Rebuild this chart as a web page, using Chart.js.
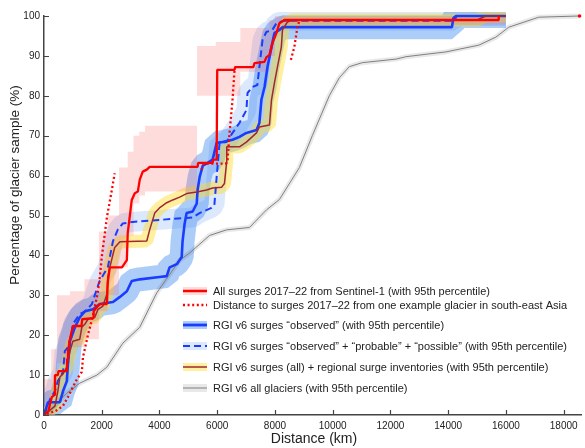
<!DOCTYPE html>
<html>
<head>
<meta charset="utf-8">
<script src="https://cdn.jsdelivr.net/npm/chart.js@4.4.0/dist/chart.umd.min.js"></script>
<style>html,body{margin:0;padding:0;background:#fff}</style>
</head>
<body>
<canvas id="chart" width="585" height="448"></canvas>
<script>
// x ticks (km) and y ticks (%)
var xTicks = [0, 2000, 4000, 6000, 8000, 10000, 12000, 14000, 16000, 18000];
var yTicks = [0, 10, 20, 30, 40, 50, 60, 70, 80, 90, 100];

// all surges 2017-22 from Sentinel-1
var redX = [0, 150, 270, 350, 380, 480, 500, 790, 800, 830, 900, 1000, 1300, 1320, 1700, 1720, 1830, 1935, 2180, 2210, 2280, 2700, 2870, 2900, 3040, 3145, 3250, 3317, 3420, 3560, 3660, 5320, 5340, 5840, 5860, 5980, 6000, 6600, 6620, 7250, 7290, 7636, 7705, 7809, 7912, 8050, 8154, 8327, 15750, 15750];
var redY = [0, 1, 4.5, 5, 10, 10, 11, 11, 14, 16, 19, 22.3, 22.3, 24, 24.3, 26, 27, 27.8, 27.8, 33.3, 37, 37, 38.8, 45.6, 53.9, 55.6, 56, 59, 61, 61.5, 62.2, 62.2, 63.2, 63.2, 64, 64, 86.5, 86.5, 87.2, 87.2, 88.2, 88.5, 89.7, 90.2, 93.2, 95.7, 98.2, 99, 99, 100];
// 95th percentile envelope of the Sentinel-1 curve
var redBandX = [0, 250, 450, 900, 1400, 1900, 2200, 2600, 2900, 3100, 3300, 3500, 5300, 5950, 6800, 7800, 8000, 8200, 8400, 16000];
var redBandHi = [3, 9, 16.5, 30, 31, 34, 46, 50, 62, 66, 70, 71, 72.5, 92.5, 93.5, 97, 99, 100, 100, 100];
var redBandLo = [0, 0, 5, 13, 17, 19, 26, 30, 37, 45, 53, 55, 56, 80, 80, 86, 90, 96, 97.8, 97.8];

// distance to surges from one example glacier
var dotX = [100, 400, 650, 830, 1000, 1140, 1310, 1350, 1520, 1700, 1870, 1935, 2000, 2180, 2350, 2450, 2500, 5450, 5550, 6300, 6360, 6430, 6530, 6600, 7000, 8550, 8670, 8730, 8780, 8850, 10000, 18550];
var dotY = [0.3, 1, 2.2, 4.5, 7, 9, 10.8, 14.5, 20, 25, 31, 34.6, 39.5, 49.6, 56.4, 60.6, null, 61.5, 63, 63, 64, 71, 79, 86.5, null, 89, 92.2, 95, 97.2, 99, null, 100];

// RGI v6 surges "observed"
var blueX = [0, 140, 550, 660, 790, 830, 900, 1070, 1240, 1420, 1700, 1930, 2390, 2630, 2870, 3040, 3320, 4000, 4250, 4350, 4600, 4770, 4800, 4870, 4940, 5150, 5290, 5320, 5390, 5500, 5630, 5840, 5980, 6180, 6530, 6770, 7010, 7360, 7460, 7530, 7640, 7740, 7880, 7980, 8150, 8260, 14130, 14180, 14270, 16000];
var blueY = [0, 3.2, 3.2, 6, 8.5, 12.8, 18.5, 22, 24.5, 26, 26.5, 27.8, 28.3, 29.6, 31, 33.6, 34, 34.6, 34.8, 37, 37.8, 39.6, 43.6, 47.9, 50.6, 51, 53, 56.4, 59.6, 62.5, 63, 64, 68.2, 68.4, 69, 69.7, 70.7, 71.4, 73.2, 79, 82.2, 87.2, 92.2, 95.7, 96.5, 97.2, 97.2, 99.5, 100, 100];

// RGI v6 surges "observed" + "probable" + "possible"
var dashX = [0, 210, 380, 480, 660, 720, 830, 970, 1000, 1240, 1420, 1660, 1830, 1930, 2210, 2390, 2560, 2730, 3075, 4940, 5150, 5390, 5800, 5900, 5980, 6080, 6320, 6530, 6770, 7010, 7050, 7220, 7390, 7460, 7570, 7700, 7910, 8050, 8300, 14200, 14300, 16000];
var dashY = [0, 4, 6, 8.5, 10.8, 16, 17, 21, 22.8, 25.3, 26, 27.8, 31.6, 33.6, 37, 43.6, 46.5, 48, 48.4, 49.4, 49.5, 50.6, 51.9, 52.6, 59.6, 68.2, 68.4, 70.7, 73.2, 76.4, 80.7, 82.2, 82.7, 87.2, 94, 96, 96.5, 98.2, 98.8, 98.8, 100, 100];

// RGI v6 surges (all) + regional surge inventories
var brownX = [0, 380, 480, 550, 660, 790, 900, 1000, 1240, 1310, 1420, 1520, 1760, 1870, 2040, 2180, 2210, 2280, 2390, 2450, 2630, 3560, 3660, 3835, 4000, 4250, 4460, 4700, 4940, 5290, 5630, 5840, 6150, 6250, 6320, 6330, 6770, 7010, 7360, 7460, 7809, 7880, 7980, 8085, 8220, 8260, 8430, 8600, 15000, 15300, 16000];
var brownY = [0, 2.2, 6, 9.5, 10.3, 12, 16, 18.5, 19, 22, 22.8, 24, 24.5, 26.5, 27.3, 30.3, 34.6, 37, 40.3, 42, 43.4, 43.6, 46.4, 50.6, 51.9, 53.2, 53.9, 54.6, 55.5, 55.9, 56.4, 56.9, 57.1, 58, 63, 67.2, 67.2, 68.4, 70.7, 72.2, 72.7, 79, 83.2, 87.2, 92.2, 96.5, 98.5, 99, 99, 100, 100];

// RGI v6 all glaciers
var grayX = [0, 311, 795, 1244, 1831, 2177, 2730, 3317, 3904, 4457, 4699, 5044, 5735, 6323, 7117, 7705, 8154, 8845, 9294, 9881, 10227, 10573, 11022, 12196, 12540, 13336, 13923, 15063, 15650, 16100, 17137, 18519];
var grayY = [0, 2, 5.5, 8, 10, 12, 18, 22, 30.6, 36.3, 38.8, 40.6, 45, 46.4, 47, 51.4, 54, 62, 70, 80, 84.5, 87.3, 88.3, 89.2, 89.8, 90.5, 91, 92.7, 94.7, 97.2, 99.7, 100];

var legendLabels = [
  'All surges 2017\u201322 from Sentinel-1 (with 95th percentile)',
  'Distance to surges 2017\u201322 from one example glacier in south-east Asia',
  'RGI v6 surges \u201cobserved\u201d (with 95th percentile)',
  'RGI v6 surges \u201cobserved\u201d + \u201cprobable\u201d + \u201cpossible\u201d (with 95th percentile)',
  'RGI v6 surges (all) + regional surge inventories (with 95th percentile)',
  'RGI v6 all glaciers (with 95th percentile)'
];

function pts(xs, ys) {
  return xs.map(function (x, i) { return { x: x, y: ys[i] }; });
}

var FONT = '"Liberation Sans", Arial, sans-serif';
var pink = 'rgba(250, 80, 80, 0.2)';
var blueBand = 'rgba(50, 130, 240, 0.4)';
var lightBlue = 'rgba(60, 130, 240, 0.18)';
var yellow = 'rgba(255, 220, 40, 0.45)';
var grayBand = 'rgba(0, 0, 0, 0.09)';
var bandClip = { left: 0, top: 4, right: 0, bottom: 0 };

function line(xs, ys, color, width, dash, order) {
  return { data: pts(xs, ys), borderColor: color, borderWidth: width, borderDash: dash || [], pointRadius: 0, fill: false, order: order, borderJoinStyle: 'bevel' };
}

// percentile band drawn as a wide translucent stroke round the curve
function halo(xs, ys, color, width, order) {
  var d = line(xs, ys, color, width, [], order);
  d.clip = bandClip;
  return d;
}

var dotLine = line(dotX, dotY, '#ff0000', 2.3, [2, 2.6], 1);
dotLine.pointRadius = function (c) { return c.dataIndex === dotX.length - 1 ? 1.8 : 0; };
dotLine.pointBackgroundColor = '#ff0000';
dotLine.pointBorderWidth = 0;

var datasets = [
  { data: pts(redBandX, redBandHi), stepped: 'after', borderWidth: 0, pointRadius: 0, fill: '+1', backgroundColor: pink, order: 18 },
  { data: pts(redBandX, redBandLo), stepped: 'after', borderWidth: 0, pointRadius: 0, fill: false, order: 18 },
  halo(blueX, blueY, blueBand, 24, 20),
  halo(dashX, dashY, lightBlue, 20, 20),
  halo(brownX, brownY, yellow, 13, 19),
  halo(grayX, grayY, grayBand, 5, 12),
  line(grayX, grayY, '#7f7f7f', 1, [], 11),
  line(blueX, blueY, '#1a3cff', 2.6, [], 6),
  line(dashX, dashY, '#1a3cff', 2, [7, 4], 5),
  line(brownX, brownY, '#a0282d', 1.5, [], 4),
  line(redX, redY, '#ff0000', 2.3, [], 3),
  dotLine
];

var decor = {
  id: 'decor',
  afterDraw: function (chart) {
    var ctx = chart.ctx;
    var xs = chart.scales.x, ys = chart.scales.y;
    ctx.save();
    ctx.strokeStyle = '#444';
    ctx.lineWidth = 1.2;
    ctx.beginPath();
    xTicks.forEach(function (v) {
      var p = Math.round(xs.getPixelForValue(v)) + 0.5;
      ctx.moveTo(p, ys.bottom); ctx.lineTo(p, ys.bottom - 5);
    });
    yTicks.forEach(function (v) {
      var p = Math.round(ys.getPixelForValue(v)) + 0.5;
      ctx.moveTo(xs.left, p); ctx.lineTo(xs.left + 5, p);
    });
    ctx.stroke();

    ctx.fillStyle = '#222';
    ctx.textAlign = 'center';
    ctx.textBaseline = 'middle';
    ctx.font = '14px ' + FONT;
    ctx.fillText('Distance (km)', 314, 439);
    ctx.save();
    ctx.translate(15, 185);
    ctx.rotate(-Math.PI / 2);
    ctx.font = '13.5px ' + FONT;
    ctx.fillText('Percentage of glacier sample (%)', 0, 0);
    ctx.restore();

    // legend
    var rows = [291, 305, 325, 346, 367, 388];
    var styles = [
      { c: '#ff0000', w: 2.5, d: [], b: pink },
      { c: '#ff0000', w: 2.3, d: [2, 2.6], b: null },
      { c: '#1a3cff', w: 2.8, d: [], b: blueBand },
      { c: '#1a3cff', w: 2, d: [7, 4], b: lightBlue },
      { c: '#a0282d', w: 1.5, d: [], b: yellow },
      { c: '#7f7f7f', w: 1, d: [], b: grayBand }
    ];
    var x0 = 183, x1 = 207;
    ctx.font = '11px ' + FONT;
    ctx.textAlign = 'left';
    rows.forEach(function (y, i) {
      var s = styles[i];
      if (s.b) {
        ctx.fillStyle = s.b;
        ctx.fillRect(x0, y - 4, x1 - x0, 8);
      }
      ctx.beginPath();
      ctx.setLineDash(s.d);
      ctx.strokeStyle = s.c;
      ctx.lineWidth = s.w;
      ctx.moveTo(x0, y); ctx.lineTo(x1, y);
      ctx.stroke();
      ctx.setLineDash([]);
      ctx.fillStyle = '#222';
      ctx.fillText(legendLabels[i], 213, y + 0.5);
    });
    ctx.restore();
  }
};

new Chart(document.getElementById('chart'), {
  type: 'line',
  data: { datasets: datasets },
  options: {
    responsive: false,
    animation: false,
    devicePixelRatio: 1,
    clip: false,
    layout: { padding: { top: 16, right: 3, left: 0, bottom: 0 } },
    plugins: { legend: { display: false }, tooltip: { enabled: false } },
    elements: { line: { tension: 0 } },
    scales: {
      x: {
        type: 'linear', min: 0, max: 18600,
        afterBuildTicks: function (s) { s.ticks = xTicks.map(function (v) { return { value: v }; }); },
        afterFit: function (s) { s.height = 33; },
        grid: { display: false, drawTicks: false },
        border: { display: true, color: '#444', width: 1.5 },
        ticks: { padding: 5, color: '#222', font: { family: FONT, size: 10 }, maxRotation: 0, autoSkip: false,
                 callback: function (v) { return String(v); } }
      },
      y: {
        type: 'linear', min: 0, max: 100,
        afterBuildTicks: function (s) { s.ticks = yTicks.map(function (v) { return { value: v }; }); },
        afterFit: function (s) { s.width = 44; },
        grid: { display: false, drawTicks: false },
        border: { display: true, color: '#444', width: 1.5 },
        ticks: { padding: 4, color: '#222', font: { family: FONT, size: 10 }, autoSkip: false,
                 callback: function (v) { return String(v); } }
      }
    }
  },
  plugins: [decor]
});
</script>
</body>
</html>
